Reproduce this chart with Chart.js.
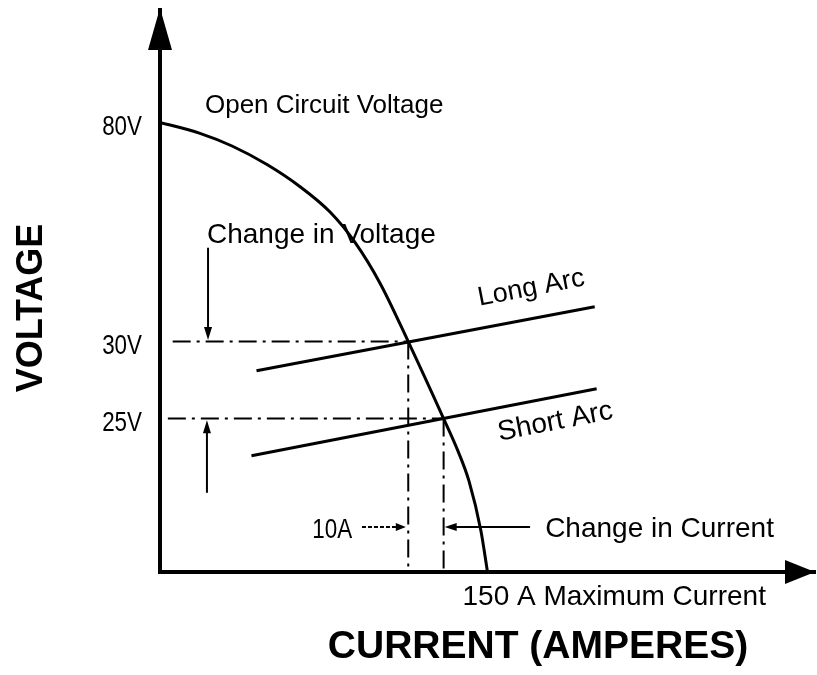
<!DOCTYPE html>
<html><head><meta charset="utf-8">
<script src="https://cdn.jsdelivr.net/npm/chart.js@4.4.1/dist/chart.umd.min.js"></script>
<style>html,body{margin:0;padding:0;background:#fff}#wrap{width:817px;height:675px}</style>
</head><body><div id="wrap"><canvas id="c" width="817" height="675"></canvas></div>
<script>
// ---- data (chart units: current along x, voltage-position along y) ----
const curveCurrent = [0, 18, 33, 49, 64, 78, 89.4, 100.9, 113.7, 129.9, 136.4, 141.5, 147, 150];
const curveVoltage = [80, 78.1, 75.8, 72.5, 68.6, 64, 58.6, 51.3, 41, 27.3, 21.6, 16.2, 7.3, 0];
const longArcCurrent = [44.2, 199.1];
const longArcVoltage = [35.8, 47.2];
const shortArcCurrent = [41.9, 200];
const shortArcVoltage = [20.7, 32.6];
const operatingCurrent = [113.7, 129.9];
const operatingVoltage = [41, 27.3];
const guideStart = [5.8, 3.6];
const voltageTickPos = [80, 41, 27.3];
const voltageTickLabels = ['80V', '30V', '25V'];
const currentTickPos = [150];
const currentTickLabels = ['150 A Maximum Current'];

const annotationArrows = [
  {from: [22, 57.7], to: [22, 41.3], dash: [], len: 13, hw: 4},
  {from: [21.5, 14.1], to: [21.5, 27.0], dash: [], len: 13, hw: 4},
  {from: [92.5, 8], to: [112.6, 8], dash: [4, 2], len: 10, hw: 4},
  {from: [169.5, 8], to: [130.4, 8], dash: [], len: 12, hw: 4}
];
const annotationTexts = [
  {text: 'Open Circuit Voltage', x: 20.6, y: 81.7, size: 26, align: 'left', rot: 0},
  {text: 'Change in Voltage', x: 21.5, y: 58.5, size: 28, align: 'left', rot: 0},
  {text: 'Long Arc', x: 170, y: 50.5, size: 27, align: 'center', base: 'middle', rot: -11},
  {text: 'Short Arc', x: 181, y: 26.7, size: 28, align: 'center', base: 'middle', rot: -11},
  {text: '10A', x: 88, y: 6.0, size: 28, align: 'right', rot: 0, squeeze: 0.8},
  {text: 'Change in Current', x: 176.4, y: 6.2, size: 28, align: 'left', rot: 0}
];

const SANS = "'Liberation Sans', Arial, sans-serif";

function pts(xs, ys) { return xs.map((v, i) => ({x: v, y: ys[i]})); }

function head(ctx, tx, ty, ang, len, hw) {
  const bx = tx - len * Math.cos(ang), by = ty - len * Math.sin(ang);
  const px = -Math.sin(ang), py = Math.cos(ang);
  ctx.beginPath();
  ctx.moveTo(tx, ty);
  ctx.lineTo(bx + hw * px, by + hw * py);
  ctx.lineTo(bx - hw * px, by - hw * py);
  ctx.closePath();
  ctx.fill();
}

const annot = {
  id: 'annot',
  afterDraw(chart) {
    const {ctx, chartArea: ca, scales: {x, y}} = chart;
    const X = v => x.getPixelForValue(v), Y = v => y.getPixelForValue(v);
    ctx.save();
    ctx.fillStyle = '#000'; ctx.strokeStyle = '#000';
    // axis arrowheads
    head(ctx, ca.left, ca.top - 2, -Math.PI / 2, 42, 12);
    head(ctx, ca.right, ca.bottom, 0, 30, 12);
    // annotation arrows
    annotationArrows.forEach(a => {
      const x1 = X(a.from[0]), y1 = Y(a.from[1]), x2 = X(a.to[0]), y2 = Y(a.to[1]);
      const ang = Math.atan2(y2 - y1, x2 - x1);
      ctx.lineWidth = 2;
      ctx.setLineDash(a.dash);
      ctx.beginPath();
      ctx.moveTo(x1, y1);
      ctx.lineTo(x2 - (a.len - 2) * Math.cos(ang), y2 - (a.len - 2) * Math.sin(ang));
      ctx.stroke();
      ctx.setLineDash([]);
      head(ctx, x2, y2, ang, a.len, a.hw);
    });
    // text annotations
    annotationTexts.forEach(t => {
      ctx.save();
      ctx.translate(X(t.x), Y(t.y));
      ctx.rotate(t.rot * Math.PI / 180);
      if (t.squeeze) ctx.scale(t.squeeze, 1);
      ctx.font = t.size + 'px ' + SANS;
      ctx.textAlign = t.align;
      ctx.textBaseline = t.base || 'alphabetic';
      ctx.fillText(t.text, 0, 0);
      ctx.restore();
    });
    // axis titles
    ctx.font = 'bold 36px ' + SANS;
    ctx.textAlign = 'center';
    ctx.textBaseline = 'alphabetic';
    ctx.save();
    ctx.translate(42, (ca.top + ca.bottom) / 2 + 17);
    ctx.rotate(-Math.PI / 2);
    ctx.fillText('VOLTAGE', 0, 0);
    ctx.restore();
    ctx.font = 'bold 39px ' + SANS;
    ctx.fillText('CURRENT (AMPERES)', 538, 658);
    ctx.restore();
  }
};

const lineStyle = {showLine: true, pointRadius: 0, borderColor: '#000', backgroundColor: '#000', fill: false};
const dashDot = [18, 6, 3, 6];

new Chart(document.getElementById('c'), {
  type: 'scatter',
  data: {
    datasets: [
      Object.assign({data: pts(curveCurrent, curveVoltage), borderWidth: 3, cubicInterpolationMode: 'monotone'}, lineStyle),
      Object.assign({data: pts(longArcCurrent, longArcVoltage), borderWidth: 3}, lineStyle),
      Object.assign({data: pts(shortArcCurrent, shortArcVoltage), borderWidth: 3}, lineStyle),
      Object.assign({data: [{x: guideStart[0], y: operatingVoltage[0]}, {x: operatingCurrent[0], y: operatingVoltage[0]}], borderWidth: 2, borderDash: dashDot}, lineStyle),
      Object.assign({data: [{x: guideStart[1], y: operatingVoltage[1]}, {x: operatingCurrent[1], y: operatingVoltage[1]}], borderWidth: 2, borderDash: dashDot}, lineStyle),
      Object.assign({data: [{x: operatingCurrent[0], y: operatingVoltage[0]}, {x: operatingCurrent[0], y: 0}], borderWidth: 2, borderDash: dashDot}, lineStyle),
      Object.assign({data: [{x: operatingCurrent[1], y: operatingVoltage[1]}, {x: operatingCurrent[1], y: 0}], borderWidth: 2, borderDash: dashDot}, lineStyle)
    ]
  },
  options: {
    responsive: false,
    animation: false,
    events: [],
    layout: {padding: {top: 10, right: 2, left: 0, bottom: 0}},
    plugins: {legend: {display: false}, tooltip: {enabled: false}},
    scales: {
      x: {
        type: 'linear', min: 0, max: 300, position: 'bottom',
        grid: {display: false, drawTicks: false},
        border: {display: true, width: 4, color: '#000'},
        afterBuildTicks: s => { s.ticks = currentTickPos.map(v => ({value: v})); },
        afterFit: s => { s.height = 103; s.paddingLeft = 0; s.paddingRight = 0; },
        ticks: {
          autoSkip: false, maxRotation: 0, align: 'start', labelOffset: -25, padding: 8,
          color: '#000', font: {family: SANS, size: 28},
          callback: (v, i) => currentTickLabels[i]
        }
      },
      y: {
        type: 'linear', min: 0, max: 100,
        grid: {display: false, drawTicks: false},
        border: {display: true, width: 4, color: '#000'},
        afterBuildTicks: s => { s.ticks = voltageTickPos.map(v => ({value: v})); },
        afterFit: s => {
          s.width = 160; s.paddingTop = 0; s.paddingBottom = 0;
          if (!s._squeezed) {
            const orig = s.drawLabels;
            s.drawLabels = function (area) {
              const ctx = this.ctx, ax = this.right - 18;
              ctx.save();
              ctx.translate(ax, 0); ctx.scale(0.8, 1); ctx.translate(-ax, 0);
              orig.call(this, area);
              ctx.restore();
            };
            s._squeezed = true;
          }
        },
        ticks: {
          autoSkip: false, padding: 18, labelOffset: 5, color: '#000',
          font: {family: SANS, size: 28},
          callback: (v, i) => voltageTickLabels[i]
        }
      }
    }
  },
  plugins: [annot]
});
</script></body></html>
